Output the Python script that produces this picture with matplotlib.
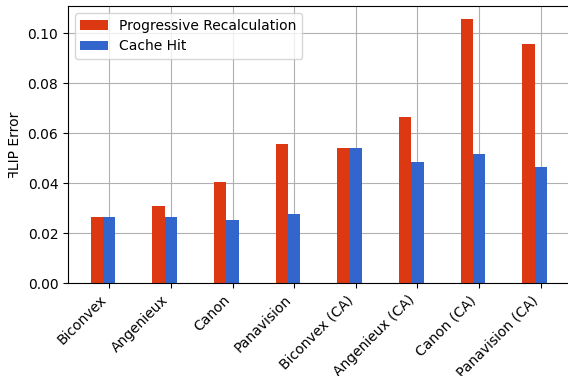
import numpy as np
import matplotlib
matplotlib.use("Agg")
import matplotlib.pyplot as plt

lenses = ["Biconvex", "Angenieux", "Canon", "Panavision",
          "Biconvex (CA)", "Angenieux (CA)", "Canon (CA)", "Panavision (CA)"]
progressive = [0.0265, 0.0309, 0.0405, 0.0557, 0.0542, 0.0665, 0.1057, 0.0957]
cache_hit = [0.0265, 0.0265, 0.0253, 0.0277, 0.0543, 0.0485, 0.0517, 0.0465]

x = np.arange(len(lenses))
width = 0.2

fig, ax = plt.subplots(figsize=(5.68, 3.76), dpi=100)
ax.bar(x - width, progressive, width, color="#dc3912", label="Progressive Recalculation")
ax.bar(x, cache_hit, width, color="#3366cc", label="Cache Hit")
ax.set_xticks(x)
ax.set_xticklabels(lenses, rotation=45, ha="right")
ax.set_ylabel("\ua7fbLIP Error")
ax.grid(True)
ax.set_axisbelow(True)
ax.legend(loc="upper left")

plt.subplots_adjust(left=0.1197, right=1.003, bottom=0.2466, top=0.984)
plt.savefig("out.png")
